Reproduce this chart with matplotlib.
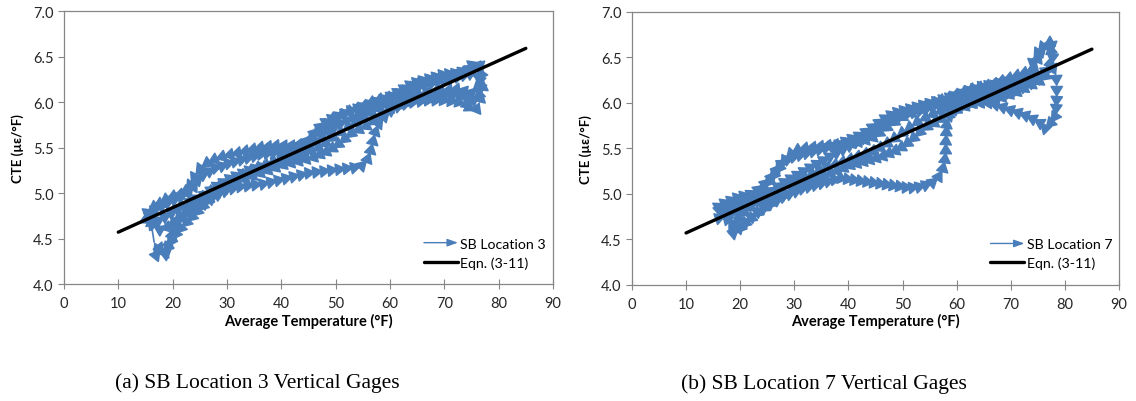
"""CTE vs average temperature for SB Location 3 and 7 vertical gages."""

import matplotlib.pyplot as plt
from matplotlib.legend_handler import HandlerBase
from matplotlib.patches import FancyArrowPatch

# SB Location 3 trajectory (temperature in F, CTE in microstrain/F)
temp_loc3 = [
    17.0, 17.8, 18.5, 19.2, 19.8, 20.3, 21.0, 22.0, 23.2, 24.5, 25.8, 27.0, 28.3, 29.6, 31.0, 32.4,
    33.8, 35.2, 36.6, 38.0, 39.4, 40.8, 42.2, 43.6, 45.0, 46.4, 47.8, 49.2, 50.6, 52.0, 53.4, 54.8,
    55.8, 56.4, 56.8, 57.2, 57.8, 58.8, 60.0, 61.4, 62.8, 64.2, 65.6, 67.0, 68.4, 69.8, 71.2, 72.6,
    74.0, 75.2, 75.8, 76.5, 77.0, 77.2,
    76.2, 75.0, 73.6, 72.2, 70.8, 69.4, 68.0, 66.6, 65.2, 63.8, 62.4, 61.0, 59.6, 58.2, 56.8, 55.4,
    54.0, 52.6, 51.2, 49.8, 48.4, 47.0, 45.8, 44.6, 43.2, 41.8, 40.4, 39.0, 37.6, 36.2, 34.8, 33.4,
    32.0, 30.6, 29.2, 27.8, 26.4, 25.2, 24.2, 23.4, 22.4, 21.2, 20.0, 18.8, 17.6, 16.4, 15.4,
    15.2, 16.2, 17.4, 18.6, 19.8, 21.0, 22.2, 23.4, 24.6, 25.8, 27.0, 28.2, 29.4, 30.6, 31.8, 33.0,
    34.2, 35.4, 36.6, 37.8, 39.0, 40.2, 41.4, 42.6, 43.8, 45.0, 46.2, 47.4, 48.6, 49.8, 51.0, 52.2,
    53.4, 54.6, 55.8, 57.0, 58.2, 59.4, 60.6, 61.8, 63.0, 64.2, 65.4, 66.6, 67.8, 69.0, 70.2, 71.4,
    72.6, 73.8, 75.0, 76.0,
    76.8, 76.4, 75.4, 74.0, 72.6, 71.2, 69.8, 68.4, 67.0, 65.6, 64.2, 62.8, 61.4, 60.0, 58.6, 57.2,
    55.8, 54.4, 53.0, 51.8, 50.6, 49.4, 48.2, 47.0, 45.8, 44.6, 43.2, 41.8, 40.4, 39.0, 37.6, 36.2,
    34.8, 33.4, 32.0, 30.6, 29.2, 27.8, 26.6, 25.6, 24.6, 23.6, 22.6, 21.6, 20.6, 19.8, 19.0, 18.2,
    17.4, 16.6,
    15.8, 16.8, 18.0, 19.2, 20.4, 21.6, 22.8, 23.8, 24.6, 25.6, 26.8, 28.0, 29.2, 30.4, 31.6, 32.8,
    34.0, 35.2, 36.4, 37.6, 38.8, 40.0, 41.2, 42.4, 43.6, 44.8, 45.8, 47.0, 48.2, 49.4, 50.6, 51.8,
    53.0, 54.2, 55.4, 56.6, 57.8, 59.0, 60.2, 61.4, 62.6, 63.8, 65.0, 66.2, 67.4, 68.6, 69.8, 71.0,
    72.2, 73.4, 74.6, 75.6, 76.4,
    76.8, 76.2, 75.0, 73.6, 72.2, 70.8, 69.4, 68.0, 66.6, 65.2, 63.8, 62.4, 61.0, 59.6, 58.2, 56.8,
    55.4, 54.0, 52.6, 51.2, 49.8, 48.4, 47.0, 45.6, 44.2, 42.8, 41.4, 40.0, 38.6, 37.2, 35.8, 34.4,
    33.0, 31.6, 30.2, 28.8, 27.4, 26.0, 24.8, 23.6, 22.4, 21.2, 20.0, 18.8, 17.6, 16.4, 15.4,
]
cte_loc3 = [
    4.32, 4.38, 4.33, 4.42, 4.52, 4.62, 4.70, 4.75, 4.80, 4.84, 4.88, 4.93, 4.98, 5.02, 5.05, 5.07,
    5.08, 5.09, 5.10, 5.12, 5.14, 5.16, 5.18, 5.20, 5.22, 5.23, 5.24, 5.25, 5.26, 5.27, 5.28, 5.30,
    5.36, 5.45, 5.55, 5.65, 5.75, 5.83, 5.90, 5.95, 5.98, 6.00, 6.01, 6.02, 6.02, 6.02, 6.01, 6.00,
    5.98, 5.92, 5.90, 6.00, 6.12, 6.25,
    6.38, 6.36, 6.33, 6.30, 6.28, 6.27, 6.25, 6.22, 6.20, 6.16, 6.12, 6.08, 6.05, 6.03, 6.00, 5.96,
    5.93, 5.90, 5.86, 5.82, 5.76, 5.70, 5.62, 5.55, 5.53, 5.52, 5.52, 5.52, 5.51, 5.50, 5.48, 5.46,
    5.44, 5.42, 5.40, 5.37, 5.33, 5.28, 5.20, 5.10, 5.02, 4.98, 4.96, 4.93, 4.88, 4.84, 4.80,
    4.70, 4.66, 4.70, 4.74, 4.78, 4.82, 4.86, 4.90, 4.94, 4.98, 5.03, 5.08, 5.12, 5.16, 5.19, 5.22,
    5.25, 5.27, 5.29, 5.31, 5.34, 5.36, 5.38, 5.40, 5.43, 5.48, 5.55, 5.62, 5.68, 5.73, 5.77, 5.80,
    5.83, 5.86, 5.89, 5.92, 5.95, 5.98, 6.02, 6.06, 6.10, 6.14, 6.17, 6.19, 6.21, 6.23, 6.25, 6.26,
    6.28, 6.30, 6.32, 6.35,
    6.20, 6.08, 6.02, 6.05, 6.08, 6.08, 6.07, 6.06, 6.05, 6.04, 6.03, 6.00, 5.97, 5.92, 5.86, 5.80,
    5.74, 5.70, 5.66, 5.60, 5.54, 5.49, 5.45, 5.42, 5.39, 5.37, 5.35, 5.33, 5.31, 5.28, 5.25, 5.22,
    5.19, 5.16, 5.12, 5.08, 5.03, 4.98, 4.92, 4.86, 4.80, 4.74, 4.68, 4.62, 4.55, 4.48, 4.40, 4.34,
    4.36, 4.46,
    4.76, 4.82, 4.86, 4.90, 4.93, 4.96, 4.99, 5.06, 5.14, 5.20, 5.24, 5.28, 5.30, 5.33, 5.35, 5.37,
    5.39, 5.41, 5.43, 5.44, 5.45, 5.46, 5.47, 5.49, 5.52, 5.57, 5.64, 5.72, 5.78, 5.82, 5.85, 5.88,
    5.91, 5.93, 5.95, 5.98, 6.01, 6.04, 6.07, 6.11, 6.15, 6.19, 6.22, 6.24, 6.26, 6.28, 6.30, 6.31,
    6.32, 6.34, 6.37, 6.42, 6.44,
    6.32, 6.16, 6.10, 6.12, 6.14, 6.13, 6.12, 6.10, 6.09, 6.08, 6.06, 6.04, 6.01, 5.98, 5.94, 5.89,
    5.84, 5.79, 5.74, 5.68, 5.62, 5.56, 5.50, 5.46, 5.44, 5.42, 5.40, 5.37, 5.34, 5.31, 5.28, 5.24,
    5.20, 5.16, 5.12, 5.08, 5.03, 4.97, 4.90, 4.84, 4.78, 4.72, 4.66, 4.62, 4.60, 4.64, 4.72,
]

# SB Location 7 trajectory
temp_loc7 = [
    19.0, 19.8, 20.8, 22.0, 23.2, 24.4, 25.6, 26.8, 28.0, 29.2, 30.4, 31.6, 32.8, 34.0, 35.2, 36.4,
    37.6, 38.8, 40.0, 41.2, 42.4, 43.6, 44.8, 46.0, 47.2, 48.4, 49.6, 50.8, 52.0, 53.2, 54.4, 55.6,
    56.6, 57.4, 57.8, 58.0, 58.0, 58.1, 58.2, 58.4, 59.6, 61.0, 62.4, 63.8, 65.2, 66.6, 68.0, 69.4,
    70.8, 72.2, 73.6, 75.0, 76.2, 77.2, 77.6, 77.2,
    76.0, 75.0, 74.2, 73.8, 72.6, 71.2, 69.8, 68.4, 67.0, 65.6, 64.2, 62.8, 61.4, 60.0, 58.6, 57.2,
    55.8, 54.4, 53.0, 51.6, 50.2, 48.8, 47.4, 46.0, 44.6, 43.2, 41.8, 40.4, 39.0, 37.6, 36.2, 34.8,
    33.4, 32.0, 30.6, 29.4, 28.4, 27.4, 26.4, 25.4, 24.4, 23.2, 22.0, 20.8, 19.6, 18.4, 17.2, 16.2,
    16.4, 17.4, 18.6, 19.8, 21.0, 22.2, 23.4, 24.6, 25.8, 27.0, 28.2, 29.4, 30.6, 31.8, 33.0, 34.2,
    35.4, 36.6, 37.8, 39.0, 40.2, 41.4, 42.6, 43.8, 45.0, 46.2, 47.4, 48.6, 49.8, 51.0, 52.2, 53.4,
    54.6, 55.8, 57.0, 58.2, 59.4, 60.6, 61.8, 63.0, 64.2, 65.4, 66.6, 67.8, 69.0, 70.2, 71.4, 72.6,
    73.8, 75.0, 76.2, 77.6,
    78.4, 78.5, 78.5, 78.4, 78.3, 77.4, 76.4, 75.4, 74.2, 72.8, 71.4, 70.0, 68.6, 67.2, 65.8, 64.4,
    63.0, 61.6, 60.2, 58.8, 57.4, 56.0, 54.6, 53.4, 52.2, 51.0, 49.8, 48.6, 47.4, 46.2, 45.0, 43.8,
    42.6, 41.4, 40.2, 39.0, 37.8, 36.6, 35.4, 34.2, 33.0, 31.8, 30.6, 29.4, 28.2, 27.0, 25.8, 24.6,
    23.4, 22.2, 21.0, 20.0, 19.2, 17.8,
    16.0, 17.2, 18.4, 19.6, 20.8, 22.0, 23.2, 24.4, 25.6, 26.6, 27.6, 28.8, 30.0, 31.2, 32.4, 33.6,
    34.8, 36.0, 37.2, 38.4, 39.6, 40.8, 42.0, 43.2, 44.4, 45.6, 46.8, 48.0, 49.2, 50.4, 51.6, 52.8,
    54.0, 55.2, 56.4, 57.6, 58.8, 60.0, 61.2, 62.4, 63.6, 64.8, 66.0, 67.2, 68.4, 69.6, 70.8, 72.0,
    73.2, 74.2, 74.8, 75.6, 76.6, 77.4,
    77.8, 77.6, 76.6, 75.4, 74.0, 72.6, 71.2, 69.8, 68.4, 67.0, 65.6, 64.2, 62.8, 61.4, 60.0, 58.6,
    57.2, 55.8, 54.4, 53.0, 51.6, 50.2, 48.8, 47.4, 46.0, 44.6, 43.2, 41.8, 40.4, 39.0, 37.6, 36.2,
    34.8, 33.4, 32.0, 30.6, 29.2, 27.8, 26.4, 25.0, 23.6, 22.2, 20.8, 19.6, 18.6, 17.6, 16.6,
]
cte_loc7 = [
    4.58, 4.62, 4.68, 4.74, 4.80, 4.85, 4.89, 4.93, 4.97, 5.00, 5.03, 5.06, 5.08, 5.10, 5.12, 5.14,
    5.16, 5.17, 5.16, 5.15, 5.14, 5.13, 5.12, 5.11, 5.10, 5.09, 5.08, 5.07, 5.07, 5.08, 5.10, 5.13,
    5.18, 5.26, 5.36, 5.46, 5.56, 5.66, 5.76, 5.84, 5.92, 5.97, 6.00, 6.03, 6.05, 6.07, 6.09, 6.11,
    6.14, 6.17, 6.21, 6.26, 6.32, 6.40, 6.52, 6.66,
    6.62, 6.55, 6.48, 6.36, 6.33, 6.30, 6.27, 6.24, 6.21, 6.19, 6.17, 6.15, 6.12, 6.09, 6.06, 6.03,
    6.00, 5.97, 5.93, 5.89, 5.85, 5.80, 5.74, 5.68, 5.62, 5.59, 5.57, 5.56, 5.55, 5.54, 5.53, 5.52,
    5.51, 5.50, 5.48, 5.44, 5.38, 5.30, 5.22, 5.14, 5.07, 5.00, 4.95, 4.92, 4.90, 4.87, 4.84, 4.80,
    4.74, 4.76, 4.80, 4.83, 4.87, 4.91, 4.95, 4.99, 5.03, 5.08, 5.13, 5.17, 5.21, 5.25, 5.29, 5.33,
    5.37, 5.41, 5.45, 5.49, 5.53, 5.57, 5.61, 5.66, 5.71, 5.76, 5.80, 5.83, 5.86, 5.88, 5.90, 5.92,
    5.94, 5.96, 5.98, 6.00, 6.02, 6.04, 6.06, 6.08, 6.10, 6.12, 6.14, 6.16, 6.18, 6.20, 6.22, 6.24,
    6.27, 6.30, 6.34, 6.40,
    6.30, 6.18, 6.06, 5.95, 5.86, 5.78, 5.72, 5.78, 5.82, 5.86, 5.89, 5.92, 5.95, 5.98, 6.00, 6.00,
    5.99, 5.96, 5.93, 5.88, 5.83, 5.78, 5.74, 5.69, 5.62, 5.56, 5.51, 5.47, 5.44, 5.41, 5.39, 5.37,
    5.35, 5.33, 5.31, 5.28, 5.25, 5.22, 5.19, 5.16, 5.13, 5.10, 5.07, 5.03, 4.99, 4.95, 4.90, 4.85,
    4.80, 4.74, 4.68, 4.62, 4.56, 4.70,
    4.86, 4.90, 4.93, 4.96, 4.98, 5.00, 5.04, 5.10, 5.17, 5.25, 5.33, 5.38, 5.41, 5.43, 5.45, 5.47,
    5.49, 5.51, 5.53, 5.55, 5.58, 5.61, 5.64, 5.68, 5.73, 5.78, 5.83, 5.87, 5.90, 5.92, 5.94, 5.96,
    5.98, 6.00, 6.02, 6.04, 6.06, 6.08, 6.11, 6.14, 6.16, 6.18, 6.19, 6.20, 6.22, 6.24, 6.26, 6.28,
    6.30, 6.33, 6.45, 6.56, 6.62, 6.70,
    6.55, 6.42, 6.30, 6.24, 6.20, 6.16, 6.12, 6.09, 6.06, 6.04, 6.02, 6.01, 6.00, 5.99, 5.97, 5.94,
    5.91, 5.88, 5.84, 5.80, 5.74, 5.68, 5.62, 5.56, 5.51, 5.47, 5.44, 5.41, 5.38, 5.35, 5.32, 5.29,
    5.26, 5.22, 5.18, 5.14, 5.10, 5.06, 5.01, 4.96, 4.91, 4.86, 4.80, 4.74, 4.68, 4.72, 4.78,
]

# Eqn. (3-11) end points
eqn_temp = [10, 85]
eqn_cte = [4.57, 6.59]

panels = [
    (temp_loc3, cte_loc3, 'SB Location 3', '(a) SB Location 3 Vertical Gages'),
    (temp_loc7, cte_loc7, 'SB Location 7', '(b) SB Location 7 Vertical Gages'),
]

BLUE = '#4A7EBB'
AXIS_GRAY = '#868686'
ARROW = dict(arrowstyle='-|>,head_length=0.6,head_width=0.36', mutation_scale=11,
             color=BLUE, lw=1.2, shrinkA=0, shrinkB=0)
LEGEND_ARROW = dict(arrowstyle='-|>,head_length=0.7,head_width=0.25', mutation_scale=9,
                    color=BLUE, lw=1.0, shrinkA=0, shrinkB=0)


class ArrowHandler(HandlerBase):
    """Legend entry drawn as a line ending in an arrow head."""

    def create_artists(self, legend, orig_handle, xdescent, ydescent,
                       width, height, fontsize, trans):
        y = height / 2 - ydescent
        arrow = FancyArrowPatch((-xdescent, y), (-xdescent + width, y),
                                transform=trans, **LEGEND_ARROW)
        return [arrow]


plt.rcParams['font.family'] = ['Lato', 'DejaVu Sans']

fig = plt.figure(figsize=(11.36, 4.02), dpi=100)
axes_rects = [[0.0563, 0.291, 0.4305, 0.679], [0.5563, 0.289, 0.4287, 0.679]]

for rect, (temp, cte, name, caption) in zip(axes_rects, panels):
    ax = fig.add_axes(rect)

    # data trajectory: one arrow per step
    for i in range(len(temp) - 1):
        ax.add_patch(FancyArrowPatch((temp[i], cte[i]), (temp[i + 1], cte[i + 1]), **ARROW))
    series, = ax.plot([], [], color=BLUE, label=name)

    ax.plot(eqn_temp, eqn_cte, color='black', lw=2.4, solid_capstyle='round',
            label='Eqn. (3-11)', zorder=5)

    ax.set_xlim(0, 90)
    ax.set_ylim(4.0, 7.0)
    ax.set_xticks(range(0, 91, 10))
    ax.set_yticks([4.0, 4.5, 5.0, 5.5, 6.0, 6.5, 7.0])
    ax.yaxis.set_major_formatter('{x:.1f}')
    ax.tick_params(axis='x', direction='inout', length=7, width=0.8, color=AXIS_GRAY,
                   labelsize=10.5, labelcolor='#262626', pad=5)
    ax.tick_params(axis='y', direction='out', length=4, width=0.8, color=AXIS_GRAY,
                   labelsize=10.5, labelcolor='#262626')
    for spine in ax.spines.values():
        spine.set_color(AXIS_GRAY)
        spine.set_linewidth(0.9)

    ax.set_xlabel('Average Temperature (°F)', fontsize=10.5, fontweight='bold', labelpad=2)
    ax.set_ylabel('CTE (µε/°F)', fontsize=9.5, fontweight='bold', labelpad=6)

    ax.legend(loc='lower left', bbox_to_anchor=(0.71, 0.01), frameon=False,
              fontsize=10.2, handlelength=2.4, handletextpad=0.15, labelspacing=0.45,
              handler_map={series: ArrowHandler()})

    ax.text(0.395, -0.36, caption, transform=ax.transAxes, ha='center', va='center',
            family='Liberation Serif', fontsize=15.5)

plt.savefig('out.png')
